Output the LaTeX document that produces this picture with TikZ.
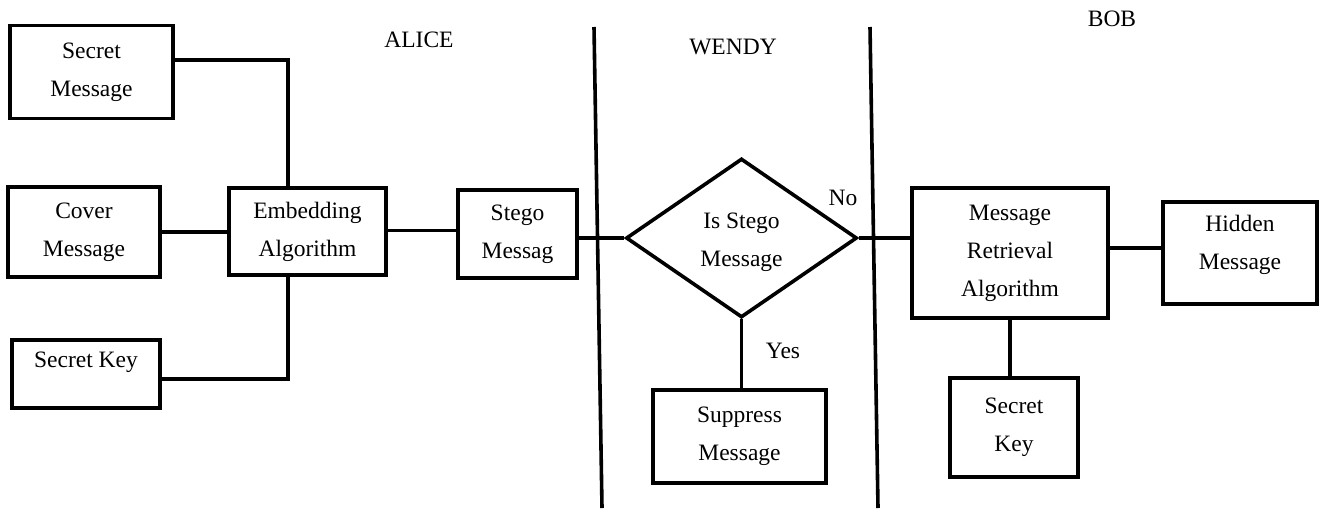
\documentclass[tikz,border=0pt]{standalone}
\usepackage{fontspec}
\setmainfont{Liberation Serif}
\usetikzlibrary{shapes.geometric}
\tikzset{
  box/.style={draw, rectangle, line width=3.6pt, inner sep=0pt, align=center,
              font=\fontsize{23.5}{38}\selectfont},
  decision/.style={draw, diamond, line width=3.6pt, inner sep=0pt, align=center,
              font=\fontsize{23.5}{38}\selectfont},
  link/.style={line width=3.4pt},
  divider/.style={line width=3.6pt},
  party/.style={font=\fontsize{23.5}{28}\selectfont, inner sep=0pt},
  tag/.style={font=\fontsize{23.5}{28}\selectfont, inner sep=0pt}
}
\begin{document}
\begin{tikzpicture}[x=1pt, y=-1pt]
\useasboundingbox (0,0) rectangle (1319,512);

% Alice: inputs and embedding
\node[box, minimum width=163pt, minimum height=93pt] (sm)  at (91.5,72)   {Secret\\Message};
\node[box, minimum width=152pt, minimum height=90pt] (cm)  at (84,232)    {Cover\\Message};
\node[box, minimum width=148pt, minimum height=68pt] (sk)  at (86,374)    {Secret Key\\[-10pt]\mbox{}};
\node[box, minimum width=157pt, minimum height=87pt] (emb) at (307.5,231.5) {Embedding\\Algorithm};
\node[box, minimum width=119pt, minimum height=88pt] (st)  at (517.5,234) {Stego\\Messag};

% Wendy: inspection
\node[decision, minimum width=231pt, minimum height=159pt, text height=63pt] (dia) at (741.5,238) {Is Stego\\Message};
\node[box, minimum width=173pt, minimum height=93pt] (sup) at (739.5,436.5) {Suppress\\Message};

% Bob: retrieval
\node[box, minimum width=196pt, minimum height=130pt] (mra) at (1010,253) {Message\\Retrieval\\Algorithm};
\node[box, minimum width=154pt, minimum height=102pt, text depth=21pt] (hid) at (1240,253) {Hidden\\Message};
\node[box, minimum width=128pt, minimum height=99pt]  (sk2) at (1014,427.5) {Secret\\Key};

% party names
\node[party] (alice) at (419,40)  {ALICE};
\node[party] (wendy) at (733,47)  {WENDY};
\node[party] (bob)   at (1112,19) {BOB};

% channel boundaries
\coordinate (d1t) at (594,27);
\coordinate (d1b) at (602,508);
\coordinate (d2t) at (870,27);
\coordinate (d2b) at (878,508);
\draw[divider] (d1t) -- (d1b);
\draw[divider] (d2t) -- (d2b);

% connectors
\draw[link] ([yshift=12pt]sm.east) -| ([xshift=-19.5pt]emb.north);
\draw[link] (cm.east) -- (cm.east -| emb.west);
\draw[link] ([xshift=-19.5pt]emb.south) |- ([yshift=-5pt]sk.east);
\draw[link] ([yshift=1pt]emb.east) -- ([yshift=1pt]emb.east -| st.west);
\draw[link] (st.east |- dia.west) -- (dia.west);
\draw[link] (dia.east) -- (dia.east -| mra.west);
\draw[link] (dia.south) -- (dia.south |- sup.north);
\draw[link] ([yshift=5pt]mra.east) -- ([yshift=5pt]mra.east -| hid.west);
\draw[link] (mra.south) -- (mra.south |- sk2.north);

% branch labels
\node[tag] (no)  at (843,198) {No};
\node[tag] (yes) at (783,351) {Yes};
\end{tikzpicture}
\end{document}
